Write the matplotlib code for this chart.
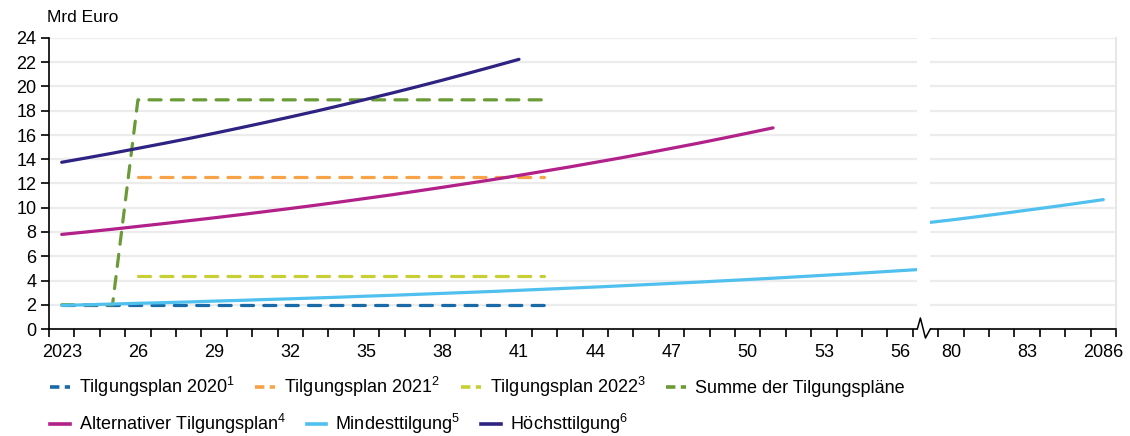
import numpy as np
import matplotlib
matplotlib.use("Agg")
import matplotlib.pyplot as plt
from matplotlib.lines import Line2D
from matplotlib.patches import Rectangle
import matplotlib.transforms as mtransforms

plt.rcParams['font.family'] = ['Liberation Sans', 'DejaVu Sans']
plt.rcParams['mathtext.fontset'] = 'custom'
plt.rcParams['mathtext.rm'] = 'Liberation Sans'
plt.rcParams['mathtext.it'] = 'Liberation Sans'
plt.rcParams['mathtext.bf'] = 'Liberation Sans'

# ---- data (Mrd Euro) ----
plan_years = list(range(2023, 2043))
plan_2020 = [2.0] * 20
plan_2021 = [np.nan] * 3 + [12.5] * 17
plan_2022 = [np.nan] * 3 + [4.4] * 17

alt_years = list(range(2023, 2052))
alt_plan = [7.80, 8.01, 8.23, 8.46, 8.69, 8.93, 9.17, 9.42, 9.68, 9.94,
            10.21, 10.49, 10.78, 11.07, 11.38, 11.69, 12.01, 12.33, 12.67, 13.02,
            13.37, 13.74, 14.11, 14.50, 14.90, 15.30, 15.72, 16.15, 16.59]

min_years_a = list(range(2023, 2058))
min_a = [1.95, 2.00, 2.06, 2.12, 2.17, 2.23, 2.30, 2.36, 2.43, 2.49,
         2.56, 2.63, 2.71, 2.78, 2.86, 2.94, 3.02, 3.10, 3.19, 3.28,
         3.37, 3.46, 3.56, 3.66, 3.76, 3.86, 3.97, 4.08, 4.19, 4.31,
         4.43, 4.55, 4.68, 4.81, 4.94]
min_years_b = list(range(2079, 2087))
min_b = [8.75, 8.99, 9.25, 9.52, 9.80, 10.08, 10.37, 10.67]

max_years = list(range(2023, 2042))
max_plan = [13.75, 14.12, 14.50, 14.90, 15.30, 15.71, 16.14, 16.58, 17.03, 17.49,
            17.96, 18.45, 18.95, 19.46, 19.99, 20.53, 21.09, 21.66, 22.24]

tick_labels = ['2023', '26', '29', '32', '35', '38', '41', '44', '47', '50',
               '53', '56', '80', '83', '2086']
tick_years = [2023, 2026, 2029, 2032, 2035, 2038, 2041, 2044, 2047, 2050,
              2053, 2056, 2080, 2083, 2086]

labels = [r'Tilgungsplan 2020$^{1}$', r'Tilgungsplan 2021$^{2}$', r'Tilgungsplan 2022$^{3}$',
          'Summe der Tilgungspläne', r'Alternativer Tilgungsplan$^{4}$',
          r'Mindesttilgung$^{5}$', r'Höchsttilgung$^{6}$']
colors = ['#1a6aa8', '#f9a349', '#c8cf35', '#6b9b37', '#b2208a', '#50c0ee', '#2e2382']


def pos(years):
    """Category position on the broken axis (2023..2057 | 2079..2086)."""
    out = []
    for y in years:
        out.append(y - 2023 if y <= 2057 else y - 2080 + 35)
    return np.array(out, dtype=float)


plan_sum = np.nansum(np.vstack([plan_2020, plan_2021, plan_2022]), axis=0)

fig = plt.figure(figsize=(11.30, 4.36), dpi=100)
ax = fig.add_axes([49 / 1130, 107 / 436, 1067 / 1130, 291 / 436])

lw = 2.3
dash = (3.8, 3.2)
kw_dash = dict(lw=lw, dashes=dash, dash_capstyle='round')
ax.plot(pos(plan_years), plan_2020, color=colors[0], zorder=3, **kw_dash)
ax.plot(pos(plan_years), plan_2021, color=colors[1], zorder=3, **kw_dash)
ax.plot(pos(plan_years), plan_2022, color=colors[2], zorder=3, **kw_dash)
ax.plot(pos(plan_years), plan_sum, color=colors[3], zorder=3, **kw_dash)
ax.plot(pos(alt_years), alt_plan, color=colors[4], lw=lw, zorder=3, solid_capstyle='round')
ax.plot(pos(min_years_a), min_a, color=colors[5], lw=lw, zorder=3, solid_capstyle='round')
ax.plot(pos(min_years_b), min_b, color=colors[5], lw=lw, zorder=3, solid_capstyle='round')
ax.plot(pos(max_years), max_plan, color=colors[6], lw=lw, zorder=3, solid_capstyle='round')

ax.set_xlim(-0.5, 41.5)
ax.set_ylim(0, 24)
ax.set_yticks(np.arange(0, 25, 2))
ax.grid(axis='y', color='#ececec', lw=1.6, zorder=0)
ax.set_axisbelow(True)

ax.set_xticks(pos(tick_years))
ax.set_xticklabels(tick_labels)
ax.set_xticks(np.arange(-0.5, 41.6, 1.0), minor=True)
ax.tick_params(axis='x', which='major', length=0, pad=11, labelsize=13)
ax.tick_params(axis='x', which='minor', length=6, width=1.2, color='black', direction='out')
ax.tick_params(axis='y', length=6, width=1.2, pad=3, labelsize=13)

ax.spines['top'].set_visible(False)
ax.spines['right'].set_color('#e6e6e6')
ax.spines['right'].set_linewidth(1.4)
ax.spines['left'].set_linewidth(1.2)
ax.spines['bottom'].set_linewidth(1.2)

# axis break: white band and zig-zag on the x axis
trans = mtransforms.blended_transform_factory(ax.transData, ax.transAxes)
ax.add_patch(Rectangle((33.68, -0.004), 0.51, 1.02, transform=trans,
                       facecolor='white', edgecolor='none', zorder=5, clip_on=False))
px = 1 / 291
zig = Line2D([33.68, 33.80, 34.0, 34.19], [0, 11 * px, -9 * px, 0], transform=trans,
             color='black', lw=1.1, zorder=6, clip_on=False)
ax.add_line(zig)

fig.text(47 / 1130, 1 - 18 / 436, 'Mrd Euro', fontsize=12.5, va='center', ha='left')


# legend in two rows
def handle(i):
    if i < 4:
        return Line2D([], [], color=colors[i], lw=2.6, dashes=(2.6, 1.5))
    return Line2D([], [], color=colors[i], lw=2.6)


common = dict(frameon=False, fontsize=13, handlelength=1.1, handletextpad=0.5,
              columnspacing=1.15, borderpad=0, borderaxespad=0, loc='center left')
fig.legend([handle(i) for i in range(4)], labels[:4], ncol=4,
           bbox_to_anchor=(50 / 1130, 1 - 387 / 436), **common)
fig.legend([handle(i) for i in range(4, 7)], labels[4:], ncol=3,
           bbox_to_anchor=(50 / 1130, 1 - 424 / 436), **common)

fig.savefig('out.png', dpi=100)
